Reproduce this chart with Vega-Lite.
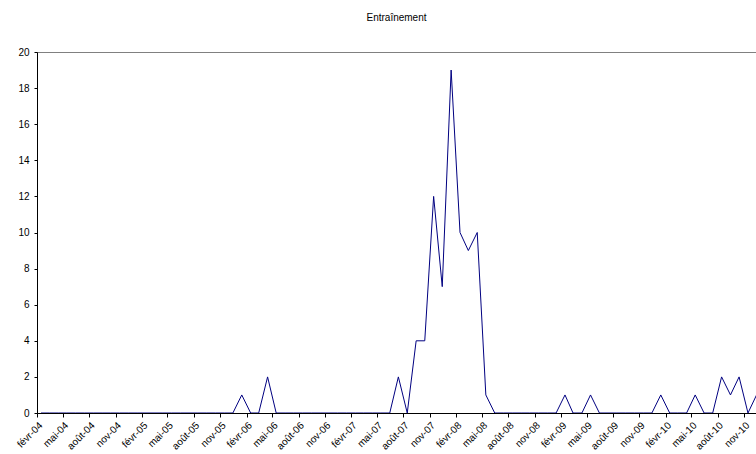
{
  "$schema": "https://vega.github.io/schema/vega-lite/v6.json",
  "width": 719,
  "height": 361,
  "autosize": {"type": "none"},
  "padding": {"left": 37, "top": 52, "right": 0, "bottom": 41},
  "background": "white",
  "title": {
    "text": "Entraînement",
    "font": "Liberation Sans",
    "fontSize": 10,
    "fontWeight": "normal",
    "color": "black",
    "baseline": "alphabetic",
    "offset": 16
  },
  "config": {
    "view": {"stroke": "#808080", "strokeWidth": 1},
    "axis": {
      "labelFont": "Liberation Sans",
      "labelFontSize": 10,
      "labelColor": "black",
      "domainColor": "black",
      "tickColor": "black",
      "grid": false,
      "zindex": 1
    }
  },
  "data": {
    "values": [
      {"date": "2004-02-15T00:00", "n": 0},
      {"date": "2004-03-15T00:00", "n": 0},
      {"date": "2004-04-15T00:00", "n": 0},
      {"date": "2004-05-15T00:00", "n": 0},
      {"date": "2004-06-15T00:00", "n": 0},
      {"date": "2004-07-15T00:00", "n": 0},
      {"date": "2004-08-15T00:00", "n": 0},
      {"date": "2004-09-15T00:00", "n": 0},
      {"date": "2004-10-15T00:00", "n": 0},
      {"date": "2004-11-15T00:00", "n": 0},
      {"date": "2004-12-15T00:00", "n": 0},
      {"date": "2005-01-15T00:00", "n": 0},
      {"date": "2005-02-15T00:00", "n": 0},
      {"date": "2005-03-15T00:00", "n": 0},
      {"date": "2005-04-15T00:00", "n": 0},
      {"date": "2005-05-15T00:00", "n": 0},
      {"date": "2005-06-15T00:00", "n": 0},
      {"date": "2005-07-15T00:00", "n": 0},
      {"date": "2005-08-15T00:00", "n": 0},
      {"date": "2005-09-15T00:00", "n": 0},
      {"date": "2005-10-15T00:00", "n": 0},
      {"date": "2005-11-15T00:00", "n": 0},
      {"date": "2005-12-15T00:00", "n": 0},
      {"date": "2006-01-15T00:00", "n": 1},
      {"date": "2006-02-15T00:00", "n": 0},
      {"date": "2006-03-15T00:00", "n": 0},
      {"date": "2006-04-15T00:00", "n": 2},
      {"date": "2006-05-15T00:00", "n": 0},
      {"date": "2006-06-15T00:00", "n": 0},
      {"date": "2006-07-15T00:00", "n": 0},
      {"date": "2006-08-15T00:00", "n": 0},
      {"date": "2006-09-15T00:00", "n": 0},
      {"date": "2006-10-15T00:00", "n": 0},
      {"date": "2006-11-15T00:00", "n": 0},
      {"date": "2006-12-15T00:00", "n": 0},
      {"date": "2007-01-15T00:00", "n": 0},
      {"date": "2007-02-15T00:00", "n": 0},
      {"date": "2007-03-15T00:00", "n": 0},
      {"date": "2007-04-15T00:00", "n": 0},
      {"date": "2007-05-15T00:00", "n": 0},
      {"date": "2007-06-15T00:00", "n": 0},
      {"date": "2007-07-15T00:00", "n": 2},
      {"date": "2007-08-15T00:00", "n": 0},
      {"date": "2007-09-15T00:00", "n": 4},
      {"date": "2007-10-15T00:00", "n": 4},
      {"date": "2007-11-15T00:00", "n": 12},
      {"date": "2007-12-15T00:00", "n": 7},
      {"date": "2008-01-15T00:00", "n": 19},
      {"date": "2008-02-15T00:00", "n": 10},
      {"date": "2008-03-15T00:00", "n": 9},
      {"date": "2008-04-15T00:00", "n": 10},
      {"date": "2008-05-15T00:00", "n": 1},
      {"date": "2008-06-15T00:00", "n": 0},
      {"date": "2008-07-15T00:00", "n": 0},
      {"date": "2008-08-15T00:00", "n": 0},
      {"date": "2008-09-15T00:00", "n": 0},
      {"date": "2008-10-15T00:00", "n": 0},
      {"date": "2008-11-15T00:00", "n": 0},
      {"date": "2008-12-15T00:00", "n": 0},
      {"date": "2009-01-15T00:00", "n": 0},
      {"date": "2009-02-15T00:00", "n": 1},
      {"date": "2009-03-15T00:00", "n": 0},
      {"date": "2009-04-15T00:00", "n": 0},
      {"date": "2009-05-15T00:00", "n": 1},
      {"date": "2009-06-15T00:00", "n": 0},
      {"date": "2009-07-15T00:00", "n": 0},
      {"date": "2009-08-15T00:00", "n": 0},
      {"date": "2009-09-15T00:00", "n": 0},
      {"date": "2009-10-15T00:00", "n": 0},
      {"date": "2009-11-15T00:00", "n": 0},
      {"date": "2009-12-15T00:00", "n": 0},
      {"date": "2010-01-15T00:00", "n": 1},
      {"date": "2010-02-15T00:00", "n": 0},
      {"date": "2010-03-15T00:00", "n": 0},
      {"date": "2010-04-15T00:00", "n": 0},
      {"date": "2010-05-15T00:00", "n": 1},
      {"date": "2010-06-15T00:00", "n": 0},
      {"date": "2010-07-15T00:00", "n": 0},
      {"date": "2010-08-15T00:00", "n": 2},
      {"date": "2010-09-15T00:00", "n": 1},
      {"date": "2010-10-15T00:00", "n": 2},
      {"date": "2010-11-15T00:00", "n": 0},
      {"date": "2010-12-15T00:00", "n": 1}
    ]
  },
  "mark": {"type": "line", "color": "#000080", "strokeWidth": 1, "clip": true},
  "encoding": {
    "x": {
      "field": "date",
      "type": "temporal",
      "title": null,
      "scale": {"domain": [{"year": 2004, "month": 2, "date": 1}, {"year": 2010, "month": 12, "date": 13}]},
      "axis": {
        "values": [
          {"year": 2004, "month": 2, "date": 1}, {"year": 2004, "month": 5, "date": 1}, {"year": 2004, "month": 8, "date": 1}, {"year": 2004, "month": 11, "date": 1},
          {"year": 2005, "month": 2, "date": 1}, {"year": 2005, "month": 5, "date": 1}, {"year": 2005, "month": 8, "date": 1}, {"year": 2005, "month": 11, "date": 1},
          {"year": 2006, "month": 2, "date": 1}, {"year": 2006, "month": 5, "date": 1}, {"year": 2006, "month": 8, "date": 1}, {"year": 2006, "month": 11, "date": 1},
          {"year": 2007, "month": 2, "date": 1}, {"year": 2007, "month": 5, "date": 1}, {"year": 2007, "month": 8, "date": 1}, {"year": 2007, "month": 11, "date": 1},
          {"year": 2008, "month": 2, "date": 1}, {"year": 2008, "month": 5, "date": 1}, {"year": 2008, "month": 8, "date": 1}, {"year": 2008, "month": 11, "date": 1},
          {"year": 2009, "month": 2, "date": 1}, {"year": 2009, "month": 5, "date": 1}, {"year": 2009, "month": 8, "date": 1}, {"year": 2009, "month": 11, "date": 1},
          {"year": 2010, "month": 2, "date": 1}, {"year": 2010, "month": 5, "date": 1}, {"year": 2010, "month": 8, "date": 1}, {"year": 2010, "month": 11, "date": 1}
        ],
        "labelExpr": "['janv','févr','mars','avr','mai','juin','juil','août','sept','oct','nov','déc'][month(datum.value)] + '-' + timeFormat(datum.value, '%y')",
        "labelAngle": -45,
        "labelPadding": 3,
        "tickSize": 4,
        "labelOverlap": false,
        "labelFlush": false,
        "labelBound": false
      }
    },
    "y": {
      "field": "n",
      "type": "quantitative",
      "title": null,
      "scale": {"domain": [0, 20], "nice": false},
      "axis": {
        "values": [0, 2, 4, 6, 8, 10, 12, 14, 16, 18, 20],
        "tickSize": 3,
        "labelPadding": 5
      }
    }
  }
}
